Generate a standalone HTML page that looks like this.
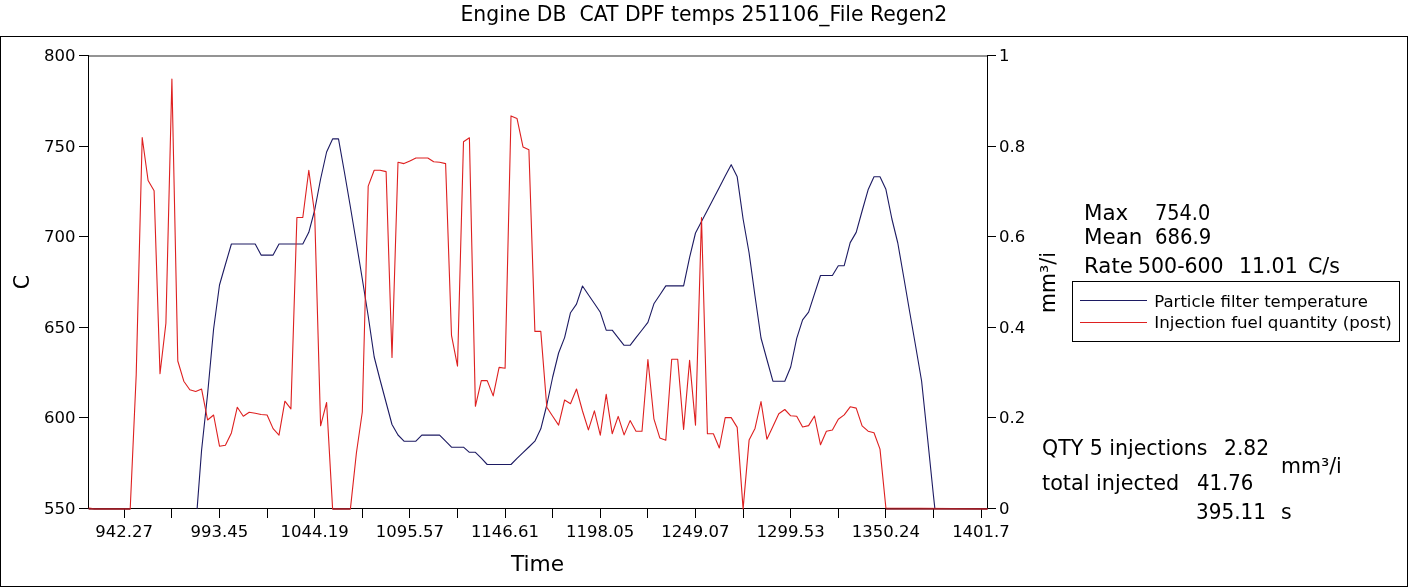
<!DOCTYPE html><html><head><meta charset="utf-8"><style>html,body{margin:0;padding:0;background:#fff;}svg{display:block;}text{font-family:"DejaVu Sans","Liberation Sans",sans-serif;fill:#000;}svg{will-change:transform;}</style></head><body>
<svg width="1408" height="587" viewBox="0 0 1408 587">
<rect x="0" y="0" width="1408" height="587" fill="#fff"/>
<rect x="0.5" y="36.5" width="1407" height="550" fill="none" stroke="#000" stroke-width="1"/>
<text x="703.8" y="20.5" font-size="20.5" text-anchor="middle" textLength="486.6" lengthAdjust="spacingAndGlyphs">Engine DB&#160; CAT DPF temps 251106_File Regen2</text>
<line x1="88" y1="55.9" x2="988" y2="55.9" stroke="#707070" stroke-width="1.5"/>
<line x1="88.5" y1="55" x2="88.5" y2="509" stroke="#000" stroke-width="1"/>
<line x1="987.5" y1="55" x2="987.5" y2="509" stroke="#000" stroke-width="1"/>
<line x1="88" y1="508.5" x2="988" y2="508.5" stroke="#000" stroke-width="1"/>
<line x1="79" y1="55.5" x2="88" y2="55.5" stroke="#000"/>
<text x="75.5" y="61.0" font-size="16.5" text-anchor="end">800</text>
<line x1="79" y1="146.5" x2="88" y2="146.5" stroke="#000"/>
<text x="75.5" y="151.6" font-size="16.5" text-anchor="end">750</text>
<line x1="79" y1="236.5" x2="88" y2="236.5" stroke="#000"/>
<text x="75.5" y="242.2" font-size="16.5" text-anchor="end">700</text>
<line x1="79" y1="327.5" x2="88" y2="327.5" stroke="#000"/>
<text x="75.5" y="332.8" font-size="16.5" text-anchor="end">650</text>
<line x1="79" y1="417.5" x2="88" y2="417.5" stroke="#000"/>
<text x="75.5" y="423.4" font-size="16.5" text-anchor="end">600</text>
<line x1="79" y1="508.5" x2="88" y2="508.5" stroke="#000"/>
<text x="75.5" y="514.0" font-size="16.5" text-anchor="end">550</text>
<line x1="988" y1="55.5" x2="996" y2="55.5" stroke="#000"/>
<text x="999" y="61.0" font-size="16.5">1</text>
<line x1="988" y1="146.5" x2="996" y2="146.5" stroke="#000"/>
<text x="999" y="151.6" font-size="16.5">0.8</text>
<line x1="988" y1="236.5" x2="996" y2="236.5" stroke="#000"/>
<text x="999" y="242.2" font-size="16.5">0.6</text>
<line x1="988" y1="327.5" x2="996" y2="327.5" stroke="#000"/>
<text x="999" y="332.8" font-size="16.5">0.4</text>
<line x1="988" y1="417.5" x2="996" y2="417.5" stroke="#000"/>
<text x="999" y="423.4" font-size="16.5">0.2</text>
<line x1="988" y1="508.5" x2="996" y2="508.5" stroke="#000"/>
<text x="999" y="514.0" font-size="16.5">0</text>
<line x1="124.5" y1="509" x2="124.5" y2="518" stroke="#000"/>
<text x="124.2" y="537" font-size="16.5" text-anchor="middle">942.27</text>
<line x1="171.5" y1="509" x2="171.5" y2="518" stroke="#000"/>
<line x1="219.5" y1="509" x2="219.5" y2="518" stroke="#000"/>
<text x="219.4" y="537" font-size="16.5" text-anchor="middle">993.45</text>
<line x1="267.5" y1="509" x2="267.5" y2="518" stroke="#000"/>
<line x1="314.5" y1="509" x2="314.5" y2="518" stroke="#000"/>
<text x="314.6" y="537" font-size="16.5" text-anchor="middle">1044.19</text>
<line x1="362.5" y1="509" x2="362.5" y2="518" stroke="#000"/>
<line x1="409.5" y1="509" x2="409.5" y2="518" stroke="#000"/>
<text x="409.8" y="537" font-size="16.5" text-anchor="middle">1095.57</text>
<line x1="457.5" y1="509" x2="457.5" y2="518" stroke="#000"/>
<line x1="505.5" y1="509" x2="505.5" y2="518" stroke="#000"/>
<text x="505.0" y="537" font-size="16.5" text-anchor="middle">1146.61</text>
<line x1="552.5" y1="509" x2="552.5" y2="518" stroke="#000"/>
<line x1="600.5" y1="509" x2="600.5" y2="518" stroke="#000"/>
<text x="600.2" y="537" font-size="16.5" text-anchor="middle">1198.05</text>
<line x1="647.5" y1="509" x2="647.5" y2="518" stroke="#000"/>
<line x1="695.5" y1="509" x2="695.5" y2="518" stroke="#000"/>
<text x="695.4" y="537" font-size="16.5" text-anchor="middle">1249.07</text>
<line x1="743.5" y1="509" x2="743.5" y2="518" stroke="#000"/>
<line x1="790.5" y1="509" x2="790.5" y2="518" stroke="#000"/>
<text x="790.6" y="537" font-size="16.5" text-anchor="middle">1299.53</text>
<line x1="838.5" y1="509" x2="838.5" y2="518" stroke="#000"/>
<line x1="885.5" y1="509" x2="885.5" y2="518" stroke="#000"/>
<text x="885.8" y="537" font-size="16.5" text-anchor="middle">1350.24</text>
<line x1="933.5" y1="509" x2="933.5" y2="518" stroke="#000"/>
<line x1="981.5" y1="509" x2="981.5" y2="518" stroke="#000"/>
<text x="981.0" y="537" font-size="16.5" text-anchor="middle">1401.7</text>
<text x="537.5" y="571" font-size="20.5" text-anchor="middle" textLength="53.2" lengthAdjust="spacingAndGlyphs">Time</text>
<text transform="translate(29,282) rotate(-90)" font-size="20.5" text-anchor="middle">C</text>
<text transform="translate(1055,282.5) rotate(-90)" font-size="20.5" text-anchor="middle">mm³/i</text>
<polyline points="197.1,508.9 201.6,450.0 207.6,394.0 213.6,329.0 219.5,285.0 225.4,264.5 231.4,244.0 237.3,244.0 243.3,244.0 249.2,244.0 255.2,244.0 261.1,255.1 267.1,255.1 273.1,255.1 279.0,244.0 284.9,244.0 290.9,244.0 296.9,244.0 302.8,244.0 308.8,232.3 314.7,210.0 320.6,179.0 326.6,152.0 332.6,138.9 338.5,138.9 344.4,172.0 350.4,207.0 356.4,243.0 362.3,279.0 368.2,316.0 374.2,357.0 380.1,380.0 386.1,402.5 392.0,424.5 398.0,435.0 404.0,441.2 409.9,441.2 415.9,441.2 421.8,435.1 427.8,435.1 433.7,435.1 439.6,435.1 445.6,441.2 451.5,447.2 457.5,447.2 463.5,447.2 469.4,452.3 475.4,452.3 481.3,458.2 487.2,464.5 493.2,464.5 499.1,464.5 505.1,464.5 511.0,464.5 517.0,458.4 523.0,452.7 528.9,447.0 534.9,441.2 540.8,428.8 546.8,405.0 552.7,377.0 558.6,353.0 564.6,337.6 570.5,312.7 576.5,304.1 582.5,286.0 588.4,294.7 594.4,303.5 600.3,312.3 606.2,330.2 612.2,330.2 618.2,337.8 624.1,345.3 630.1,345.3 636.0,337.6 642.0,330.0 647.9,322.3 653.9,303.8 659.8,295.0 665.8,285.9 671.7,285.9 677.7,285.9 683.6,285.9 689.6,257.4 695.5,233.0 701.5,221.6 707.4,210.2 713.4,198.8 719.3,187.4 725.2,176.0 731.2,164.7 737.2,176.8 743.1,219.0 749.1,253.0 755.0,296.0 761.0,338.0 766.9,359.5 772.9,381.2 778.8,381.2 784.8,381.2 790.7,367.0 796.7,338.4 802.6,319.8 808.6,312.2 814.5,293.8 820.5,275.5 826.4,275.5 832.4,275.5 838.3,265.7 844.2,265.7 850.2,242.6 856.2,232.4 862.1,211.0 868.1,189.8 874.0,176.7 880.0,176.7 885.9,189.3 891.9,219.0 897.8,243.0 903.8,277.5 909.7,312.0 915.7,346.5 921.6,381.0 927.6,438.5 933.5,496.0 934.9,508.9" fill="none" stroke="#1c1a62" stroke-width="1.1" stroke-linejoin="round"/>
<polyline points="88.6,508.0 94.5,508.9 100.5,508.9 106.4,508.9 112.4,508.9 118.3,508.9 124.3,508.9 130.2,508.9 136.2,375.0 142.2,137.5 148.1,180.5 154.1,190.7 160.0,373.8 165.9,323.2 171.9,79.1 177.8,361.0 183.8,381.2 189.8,389.8 195.7,391.5 201.6,389.1 207.6,420.0 213.6,415.0 219.5,446.2 225.4,445.2 231.4,432.9 237.3,407.2 243.3,416.2 249.2,412.3 255.2,413.3 261.1,414.5 267.1,415.0 273.1,428.6 279.0,435.1 284.9,401.2 290.9,408.9 296.9,217.5 302.8,217.5 308.8,170.2 314.7,214.0 320.6,425.8 326.6,402.5 332.6,508.9 338.5,508.9 344.4,508.9 350.4,508.9 356.4,453.0 362.3,412.0 368.2,186.1 374.2,170.2 380.1,170.2 386.1,171.6 392.0,357.5 398.0,162.2 404.0,163.6 409.9,160.9 415.9,158.0 421.8,158.0 427.8,158.0 433.7,161.7 439.6,162.2 445.6,163.6 451.5,335.4 457.5,366.1 463.5,141.8 469.4,137.8 475.4,406.3 481.3,380.6 487.2,380.6 493.2,395.9 499.1,367.4 505.1,368.3 511.0,115.9 517.0,118.4 523.0,146.9 528.9,149.8 534.9,331.4 540.8,331.4 546.8,407.2 552.7,416.2 558.6,425.1 564.6,400.0 570.5,403.7 576.5,389.0 582.5,411.0 588.4,429.9 594.4,410.8 600.3,435.1 606.2,394.4 612.2,433.7 618.2,416.4 624.1,434.9 630.1,420.6 636.0,431.3 642.0,431.3 647.9,359.5 653.9,418.8 659.8,437.9 665.8,440.2 671.7,359.2 677.7,359.2 683.6,429.4 689.6,360.4 695.5,425.1 701.5,217.6 707.4,433.7 713.4,433.7 719.3,448.0 725.2,417.6 731.2,417.6 737.2,427.4 743.1,508.9 749.1,440.1 755.0,428.4 761.0,401.5 766.9,439.2 772.9,426.5 778.8,413.7 784.8,409.5 790.7,415.8 796.7,416.3 802.6,427.0 808.6,425.6 814.5,416.0 820.5,444.8 826.4,431.2 832.4,430.0 838.3,419.3 844.2,414.9 850.2,406.8 856.2,408.1 862.1,425.8 868.1,431.2 874.0,432.7 880.0,449.1 885.9,508.0 987.5,508.9" fill="none" stroke="#de2020" stroke-width="1.1" stroke-linejoin="round"/>
<line x1="88.6" y1="508.9" x2="130.25" y2="508.9" stroke="#8a1c28" stroke-width="1.5"/>
<line x1="332.55" y1="508.9" x2="350.4" y2="508.9" stroke="#8a1c28" stroke-width="1.5"/>
<line x1="885.9" y1="508.9" x2="987.5" y2="508.9" stroke="#8a1c28" stroke-width="1.5"/>
<text x="1084" y="220" font-size="20.5" textLength="44.3" lengthAdjust="spacingAndGlyphs">Max</text>
<text x="1155" y="220" font-size="20.5" textLength="55.3" lengthAdjust="spacingAndGlyphs">754.0</text>
<text x="1084" y="244" font-size="20.5" textLength="58.4" lengthAdjust="spacingAndGlyphs">Mean</text>
<text x="1155" y="244" font-size="20.5" textLength="56.2" lengthAdjust="spacingAndGlyphs">686.9</text>
<text x="1084" y="272.5" font-size="20.5" textLength="48.9" lengthAdjust="spacingAndGlyphs">Rate</text>
<text x="1138" y="272.5" font-size="20.5">500-600</text>
<text x="1239" y="272.5" font-size="20.5">11.01</text>
<text x="1308" y="272.5" font-size="20.5">C/s</text>
<rect x="1072.5" y="281.5" width="327" height="60" fill="none" stroke="#000"/>
<line x1="1080" y1="300.5" x2="1147" y2="300.5" stroke="#1c1a62"/>
<line x1="1080" y1="322.5" x2="1147" y2="322.5" stroke="#de2020"/>
<text x="1154.3" y="307" font-size="16.5">Particle filter temperature</text>
<text x="1154.3" y="328" font-size="16.5" textLength="237.5" lengthAdjust="spacingAndGlyphs">Injection fuel quantity (post)</text>
<text x="1042" y="454.5" font-size="20.5">QTY 5 injections</text>
<text x="1224" y="454.5" font-size="20.5" textLength="45.1" lengthAdjust="spacingAndGlyphs">2.82</text>
<text x="1281" y="472.5" font-size="20.5">mm³/i</text>
<text x="1042" y="489.5" font-size="20.5" textLength="137.1" lengthAdjust="spacingAndGlyphs">total injected</text>
<text x="1197" y="489.5" font-size="20.5" textLength="56.4" lengthAdjust="spacingAndGlyphs">41.76</text>
<text x="1196" y="519" font-size="20.5" textLength="69.9" lengthAdjust="spacingAndGlyphs">395.11</text>
<text x="1281" y="519" font-size="20.5">s</text>
</svg></body></html>
